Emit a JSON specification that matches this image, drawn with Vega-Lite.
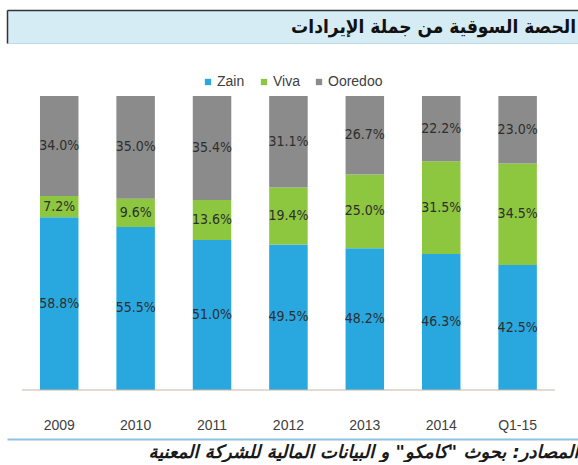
{
  "$schema": "https://vega.github.io/schema/vega-lite/v6.json",
  "padding": {"left": 6, "top": 9, "right": 0, "bottom": 0},
  "background": "white",
  "config": {"view": {"stroke": null}, "font": "Liberation Sans"},
  "title": {
    "text": "المصادر: بحوث \"كامكو\" و البيانات المالية للشركة المعنية",
    "orient": "bottom", "anchor": "end", "font": "DejaVu Sans", "fontSize": 18,
    "fontStyle": "italic", "fontWeight": "bold", "color": "#1a1a1a", "offset": 5
  },
  "spacing": 52,
  "vconcat": [
    {
      "width": 571,
      "height": 33,
      "view": {"fill": "#d6ecf4", "stroke": "#bddbe8"},
      "data": {"values": [{"t": "الحصة السوقية من جملة الإيرادات"}]},
      "mark": {"type": "text", "align": "right", "baseline": "middle", "font": "DejaVu Sans Condensed, DejaVu Sans", "fontWeight": "bold", "fontSize": 19, "color": "#111111", "dx": -2},
      "encoding": {
        "x": {"datum": 1, "type": "quantitative", "scale": {"domain": [0, 1]},
          "axis": {"orient": "top", "domain": true, "domainColor": "#333333", "domainWidth": 1.5, "labels": false, "ticks": false, "grid": false, "title": null}},
        "y": {"datum": 0.5, "type": "quantitative", "scale": {"domain": [0, 1]},
          "axis": {"orient": "left", "domain": true, "domainColor": "#333333", "domainWidth": 1.5, "labels": false, "ticks": false, "grid": false, "title": null}},
        "text": {"field": "t"}
      }
    },
    {
      "width": 571,
      "height": 294,
      "data": {"values": [
        {"year": "2009", "operator": "Zain", "value": 58.8, "label": "58.8%", "rank": 1},
        {"year": "2009", "operator": "Viva", "value": 7.2, "label": "7.2%", "rank": 2},
        {"year": "2009", "operator": "Ooredoo", "value": 34.0, "label": "34.0%", "rank": 3},
        {"year": "2010", "operator": "Zain", "value": 55.5, "label": "55.5%", "rank": 1},
        {"year": "2010", "operator": "Viva", "value": 9.6, "label": "9.6%", "rank": 2},
        {"year": "2010", "operator": "Ooredoo", "value": 35.0, "label": "35.0%", "rank": 3},
        {"year": "2011", "operator": "Zain", "value": 51.0, "label": "51.0%", "rank": 1},
        {"year": "2011", "operator": "Viva", "value": 13.6, "label": "13.6%", "rank": 2},
        {"year": "2011", "operator": "Ooredoo", "value": 35.4, "label": "35.4%", "rank": 3},
        {"year": "2012", "operator": "Zain", "value": 49.5, "label": "49.5%", "rank": 1},
        {"year": "2012", "operator": "Viva", "value": 19.4, "label": "19.4%", "rank": 2},
        {"year": "2012", "operator": "Ooredoo", "value": 31.1, "label": "31.1%", "rank": 3},
        {"year": "2013", "operator": "Zain", "value": 48.2, "label": "48.2%", "rank": 1},
        {"year": "2013", "operator": "Viva", "value": 25.0, "label": "25.0%", "rank": 2},
        {"year": "2013", "operator": "Ooredoo", "value": 26.7, "label": "26.7%", "rank": 3},
        {"year": "2014", "operator": "Zain", "value": 46.3, "label": "46.3%", "rank": 1},
        {"year": "2014", "operator": "Viva", "value": 31.5, "label": "31.5%", "rank": 2},
        {"year": "2014", "operator": "Ooredoo", "value": 22.2, "label": "22.2%", "rank": 3},
        {"year": "Q1-15", "operator": "Zain", "value": 42.5, "label": "42.5%", "rank": 1},
        {"year": "Q1-15", "operator": "Viva", "value": 34.5, "label": "34.5%", "rank": 2},
        {"year": "Q1-15", "operator": "Ooredoo", "value": 23.0, "label": "23.0%", "rank": 3}
      ]},
      "layer": [
        {
          "mark": {"type": "bar"},
          "encoding": {
            "x": {"field": "year", "type": "nominal", "sort": null,
              "scale": {"paddingInner": 0.496, "paddingOuter": 0.485, "align": 0.445},
              "axis": {"orient": "bottom", "domain": false, "ticks": false, "labelPadding": 28, "labelFontSize": 14, "labelColor": "#404040", "labelAngle": 0, "title": null, "grid": false}},
            "y": {"field": "value", "type": "quantitative", "stack": "normalize", "scale": {"domain": [0, 1]},
              "axis": {"orient": "left", "domain": true, "domainColor": "#2e2e2e", "domainWidth": 1.5, "labels": false, "ticks": false, "grid": false, "title": null}},
            "color": {"field": "operator", "type": "nominal", "sort": ["Zain", "Viva", "Ooredoo"],
              "scale": {"domain": ["Zain", "Viva", "Ooredoo"], "range": ["#29a8e0", "#8dc63f", "#8b8b8b"]},
              "legend": {"orient": "none", "legendX": 194, "legendY": 65, "direction": "horizontal", "title": null, "symbolType": "square", "symbolSize": 40, "symbolStrokeWidth": 0, "labelFontSize": 14, "labelColor": "#404040", "columnPadding": 12, "labelOffset": 2, "padding": 0}},
            "order": {"field": "rank", "type": "quantitative"}
          }
        },
        {
          "mark": {"type": "text", "fontSize": 14, "font": "Liberation Sans Narrow, DejaVu Sans Condensed, sans-serif", "color": "#2e2e2e"},
          "encoding": {
            "x": {"field": "year", "type": "nominal", "sort": null,
              "axis": {"orient": "bottom", "offset": 49, "domain": true, "domainColor": "#8fc2de", "domainWidth": 2, "labels": false, "ticks": false, "title": null, "grid": false}},
            "y": {"field": "value", "type": "quantitative", "stack": "normalize", "bandPosition": 0.5,
              "axis": {"orient": "left", "domain": true, "domainColor": "#2e2e2e", "domainWidth": 1.5, "labels": false, "ticks": false, "grid": false, "title": null}},
            "text": {"field": "label"},
            "order": {"field": "rank", "type": "quantitative"}
          }
        },
        {
          "data": {"values": [{"baseline": 0}]},
          "mark": {"type": "rule", "color": "#c9b6a3", "strokeWidth": 1.2, "xOffset": -18, "x2Offset": 18},
          "encoding": {
            "x": {"datum": "2009", "bandPosition": 0, "axis": null},
            "x2": {"datum": "Q1-15", "bandPosition": 1},
            "y": {"field": "baseline", "type": "quantitative", "axis": null}
          }
        }
      ],
      "resolve": {"axis": {"x": "independent"}}
    }
  ]
}
